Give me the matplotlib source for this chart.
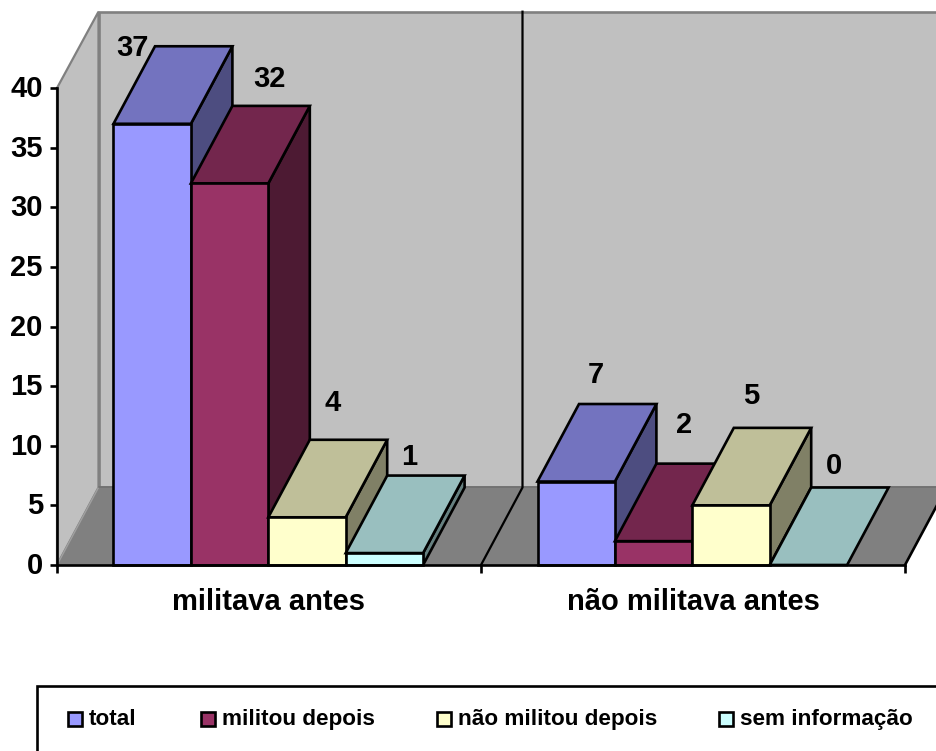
import matplotlib
matplotlib.use("Agg")
import matplotlib.pyplot as plt
from matplotlib.patches import Polygon, Rectangle
from matplotlib.transforms import ScaledTranslation

# Values
categories = ["militava antes", "não militava antes"]
series_names = ["total", "militou depois", "não militou depois", "sem informação"]
militava = [37, 32, 4, 1]
nao_militava = [7, 2, 5, 0]
y_ticks = [0, 5, 10, 15, 20, 25, 30, 35, 40]

front_colors = ["#9999ff", "#993366", "#ffffcc", "#ccffff"]
top_colors = ["#7373bf", "#73264d", "#bfbf99", "#99bfbf"]
side_colors = ["#4d4d80", "#4d1a33", "#808066", "#668080"]

# Label offsets from the top of each bar's front face, in pixels
label_dx = [[-20, 40, 26, 25], [20, 30, 20, 26]]
label_dy = [[75.5, 104.5, 114, 96], [107, 116, 109, 99]]
legend_swatch_x = [68, 201, 437, 719]

W, H = 936, 751
FONT = 21
plt.rcParams["font.family"] = ["Liberation Sans", "DejaVu Sans"]
plt.rcParams["font.weight"] = "bold"

fig = plt.figure(figsize=(W / 100, H / 100), dpi=100)
ax = fig.add_axes([57 / W, 1 - 565 / H, 848 / W, 477 / H])
ax.set_xlim(0, 2)
ax.set_ylim(0, 40)
ax.patch.set_visible(False)

# 3D depth, in data units
DX = 41.5 / 424
DY = 6.5
TOP = 46.4
BAR_W = 77.4 / 424
BAR_SHIFT = -0.7 / 424
EDGE = 1.9


def poly(points, face, edge, lw, z):
    ax.add_patch(Polygon(points, closed=True, facecolor=face, edgecolor=edge,
                         linewidth=lw, zorder=z, clip_on=False, joinstyle="miter"))


# Walls and floor
poly([(0, 0), (DX, DY), (DX, TOP), (0, 40)], "#c0c0c0", "#808080", 1.6, 0.5)
poly([(DX, DY), (2 + DX, DY), (2 + DX, TOP), (DX, TOP)], "#c0c0c0", "#808080", 1.9, 0.6)
poly([(0, 0), (2, 0), (2 + DX, DY), (DX, DY)], "#808080", "none", 0, 0.7)
ax.plot([0, DX], [0, DY], color="#a0a0a0", lw=1.0, zorder=0.8, clip_on=False)
ax.plot([DX, 2 + DX], [DY, DY], color="#707070", lw=1.2, zorder=0.8, clip_on=False)
ax.plot([2, 2 + DX], [0, DY], color="black", lw=1.9, zorder=0.8, clip_on=False)
# Divider between the two groups
ax.plot([1, 1 + DX, 1 + DX], [0, DY, TOP], color="black", lw=1.6, zorder=0.9, clip_on=False)

# Bars, painted left to right so the nearer faces overlap properly
z = 1
for g, values in enumerate([militava, nao_militava]):
    for s, v in enumerate(values):
        x0 = g + 0.5 + (s - 2) * BAR_W + BAR_SHIFT
        x1 = x0 + BAR_W
        z += 1
        if v > 0:
            poly([(x1, 0), (x1 + DX, DY), (x1 + DX, v + DY), (x1, v)],
                 side_colors[s], "black", EDGE, z)
        poly([(x0, v), (x1, v), (x1 + DX, v + DY), (x0 + DX, v + DY)],
             top_colors[s], "black", EDGE, z)
        if v > 0:
            ax.bar(x0, v, BAR_W, align="edge", color=front_colors[s], edgecolor="black",
                   linewidth=EDGE, zorder=z, clip_on=False)
        ax.annotate(str(v), (x0 + BAR_W / 2, v),
                    xytext=(label_dx[g][s], label_dy[g][s]), textcoords="offset pixels",
                    ha="center", va="center", fontsize=FONT, fontweight="bold",
                    zorder=50, annotation_clip=False)

# Axes
for side in ["top", "right"]:
    ax.spines[side].set_visible(False)
for side in ["left", "bottom"]:
    ax.spines[side].set_linewidth(1.9)
    ax.spines[side].set_zorder(40)
ax.set_yticks(y_ticks)
ax.set_xticks([0, 1, 2])
ax.set_xticklabels([])
ax.set_xticks([0.5, 1.5], minor=True)
ax.set_xticklabels(categories, minor=True, fontsize=FONT, fontweight="bold")
ax.tick_params(axis="y", length=5.2, width=1.9, pad=5, labelsize=FONT)
ax.tick_params(axis="x", which="major", length=5.8, width=1.9)
ax.tick_params(axis="x", which="minor", length=0, pad=16.5)
# y labels sit a little above their ticks
nudge = ScaledTranslation(0, 2 / 100, fig.dpi_scale_trans)
for label in ax.get_yticklabels():
    label.set_transform(label.get_transform() + nudge)

# Legend box runs off the right and bottom of the picture
fig.add_artist(Rectangle((37 / W, -0.1), 1.1, 1 - 686 / H + 0.1, transform=fig.transFigure,
                         facecolor="white", edgecolor="black", linewidth=1.9))
for x, name, color in zip(legend_swatch_x, series_names, front_colors):
    fig.add_artist(Rectangle((x / W, 1 - 726 / H), 14 / W, 14 / H, transform=fig.transFigure,
                             facecolor=color, edgecolor="black", linewidth=1.9))
    fig.text((x + 21) / W, 1 - 719.5 / H, name, ha="left", va="center",
             fontsize=16.2, fontweight="bold")

fig.savefig("out.png", dpi=100)
